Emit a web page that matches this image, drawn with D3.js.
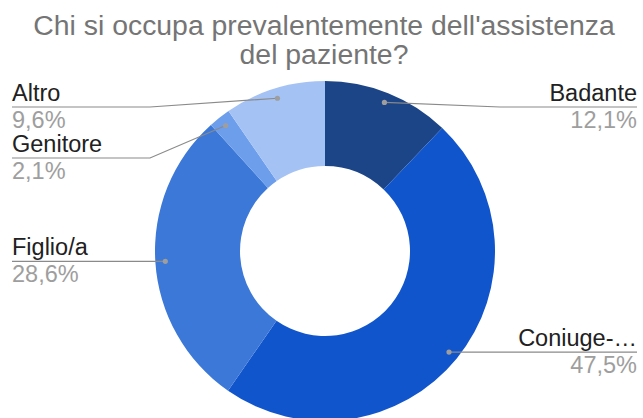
<!DOCTYPE html>
<html>
<head>
<meta charset="utf-8">
<script src="https://cdn.jsdelivr.net/npm/d3@7"></script>
<style>
  html, body { margin: 0; padding: 0; background: #fff; overflow: hidden; }
  svg { display: block; font-family: "Liberation Sans", Arial, sans-serif; }
</style>
</head>
<body>
<div id="chart"></div>
<script>
const titleLines = ["Chi si occupa prevalentemente dell'assistenza", "del paziente?"];
const categories = ["Badante", "Coniuge-…", "Figlio/a", "Genitore", "Altro"];
const values = [12.1, 47.5, 28.6, 2.1, 9.6];
const colors = ["#1c4587", "#1155cc", "#3c78d8", "#6d9eeb", "#a4c2f4"];

const width = 643, height = 418;
const cx = 325, cy = 251;
const outerR = 170, innerR = 85, dotR = 160;

const svg = d3.select("#chart").append("svg")
  .attr("width", width)
  .attr("height", height);

// title
svg.append("g").selectAll("text")
  .data(titleLines)
  .enter()
  .append("text")
  .attr("x", 324)
  .attr("y", (d, i) => 35 + i * 29)
  .attr("text-anchor", "middle")
  .attr("fill", "#757575")
  .style("font-size", "28.4px")
  .text(d => d);

const data = categories.map((name, i) => ({ name, value: values[i], color: colors[i] }));

const pie = d3.pie().sort(null).value(d => d.value);
const arcs = pie(data);

const arc = d3.arc().innerRadius(innerR).outerRadius(outerR);
const dotArc = d3.arc().innerRadius(dotR).outerRadius(dotR);

const g = svg.append("g").attr("transform", `translate(${cx},${cy})`);

g.selectAll("path.slice")
  .data(arcs)
  .enter()
  .append("path")
  .attr("class", "slice")
  .attr("fill", d => d.data.color)
  .attr("d", arc);

// label layout: each side sorted by y, pushed down to avoid overlap
const fmt = v => d3.format(".1f")(v).replace(".", ",") + "%";
const labels = arcs.map(d => {
  const [x, y] = dotArc.centroid(d);
  return { d, x: x + cx, y: y + cy, side: x >= 0 ? "right" : "left" };
});
const minLineY = 107, gap = 51;
["left", "right"].forEach(side => {
  const list = labels.filter(l => l.side === side).sort((a, b) => a.y - b.y);
  let prev = -Infinity;
  list.forEach(l => {
    l.lineY = Math.max(l.y, minLineY, prev + gap);
    prev = l.lineY;
  });
});

const lab = svg.append("g").selectAll("g.label")
  .data(labels)
  .enter()
  .append("g")
  .attr("class", "label");

lab.append("polyline")
  .attr("fill", "none")
  .attr("stroke", "#8a8a8a")
  .attr("stroke-width", 1.2)
  .attr("points", l => {
    const elbowX = l.side === "left" ? cx - 175 : cx + 175;
    const endX = l.side === "left" ? 12 : 637;
    return [[l.x, l.y], [elbowX, l.lineY], [endX, l.lineY]].map(p => p.join(",")).join(" ");
  });

lab.append("circle")
  .attr("cx", l => l.x)
  .attr("cy", l => l.y)
  .attr("r", 2.6)
  .attr("fill", "#9e9e9e");

lab.append("text")
  .attr("x", l => l.side === "left" ? 12 : 637)
  .attr("y", l => l.lineY - 6)
  .attr("text-anchor", l => l.side === "left" ? "start" : "end")
  .attr("fill", "#212121")
  .style("font-size", "23.5px")
  .text(l => l.d.data.name);

lab.append("text")
  .attr("x", l => l.side === "left" ? 12 : 637)
  .attr("y", l => l.lineY + 21)
  .attr("text-anchor", l => l.side === "left" ? "start" : "end")
  .attr("fill", "#9e9e9e")
  .style("font-size", "23.5px")
  .text(l => fmt(l.d.data.value));
</script>
</body>
</html>
